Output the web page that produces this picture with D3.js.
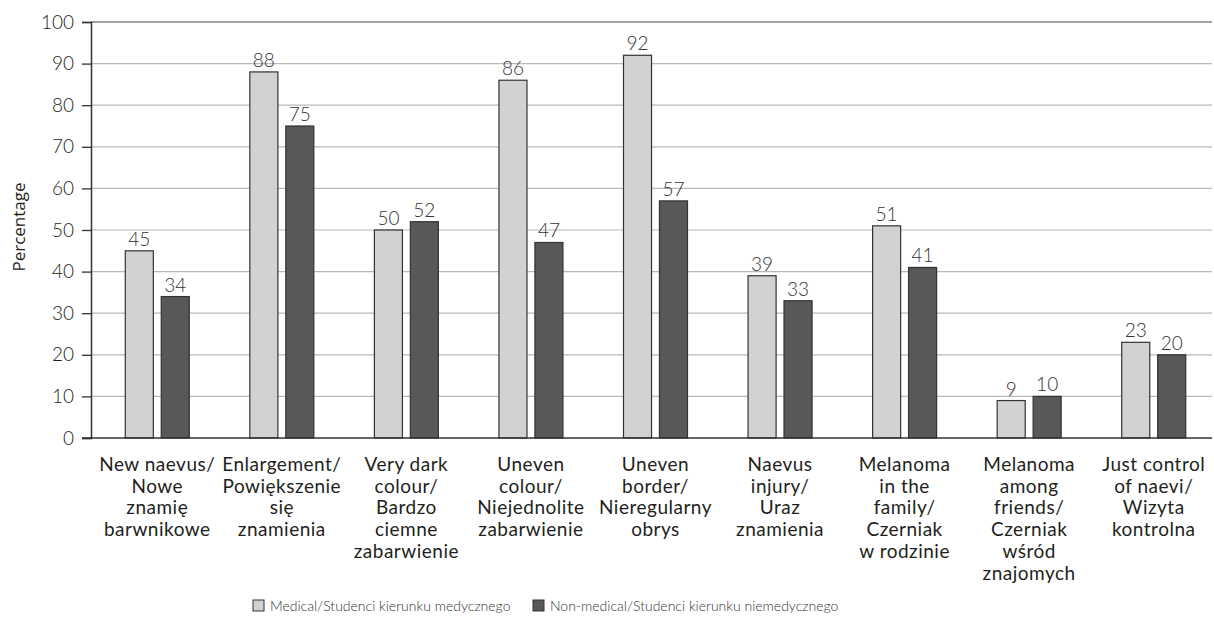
<!DOCTYPE html>
<html lang="en">
<head>
<meta charset="UTF-8">
<title>Chart</title>
<script src="https://cdn.jsdelivr.net/npm/d3@7"></script>
<style>
  body { margin: 0; background: #fff; }
  text { font-family: Lato, "Open Sans", sans-serif; fill: #231f20; }
</style>
</head>
<body>
<svg width="1214" height="623" id="mainsvg"></svg>
<script>
  const categories = [
    ['New naevus/', 'Nowe', 'znamię', 'barwnikowe'],
    ['Enlargement/', 'Powiększenie', 'się', 'znamienia'],
    ['Very dark', 'colour/', 'Bardzo', 'ciemne', 'zabarwienie'],
    ['Uneven', 'colour/', 'Niejednolite', 'zabarwienie'],
    ['Uneven', 'border/', 'Nieregularny', 'obrys'],
    ['Naevus', 'injury/', 'Uraz', 'znamienia'],
    ['Melanoma', 'in the', 'family/', 'Czerniak', 'w rodzinie'],
    ['Melanoma', 'among', 'friends/', 'Czerniak', 'wśród', 'znajomych'],
    ['Just control', 'of naevi/', 'Wizyta', 'kontrolna']
  ]
  const medical = [45, 88, 50, 86, 92, 39, 51, 9, 23]
  const nonMedical = [34, 75, 52, 47, 57, 33, 41, 10, 20]
  const seriesNames = ['Medical/Studenci kierunku medycznego', 'Non-medical/Studenci kierunku niemedycznego']
  const seriesColors = ['#d1d2d4', '#58585a']
  const yTicks = [0, 10, 20, 30, 40, 50, 60, 70, 80, 90, 100]

  const svg = d3.select('#mainsvg')
  const axisLeft = 91, plotRight = 1212
  const yTop = 22, yBottom = 438

  const x0 = d3.scaleBand()
    .domain(d3.range(categories.length))
    .range([95, 1216])
  const x1 = d3.scaleBand()
    .domain([0, 1])
    .range([x0.bandwidth() / 2 - 32, x0.bandwidth() / 2 + 32])
    .paddingInner(0.22)
  const y = d3.scaleLinear().domain([0, 100]).range([yBottom, yTop])

  // grid lines
  svg.append('g').selectAll('line')
    .data(yTicks.filter(d => d > 0 && d < 100))
    .join('line')
    .attr('x1', axisLeft).attr('x2', plotRight)
    .attr('y1', d => y(d)).attr('y2', d => y(d))
    .attr('stroke', '#b8b8b8').attr('stroke-width', 1.2)

  // top line
  svg.append('line')
    .attr('x1', axisLeft).attr('x2', plotRight)
    .attr('y1', y(100)).attr('y2', y(100))
    .attr('stroke', '#444').attr('stroke-width', 1.2)

  // y axis
  const yAxis = d3.axisLeft(y).tickValues(yTicks).tickSize(9).tickPadding(8)
  const ya = svg.append('g')
    .attr('transform', `translate(${axisLeft},0)`)
    .call(yAxis)
  ya.select('.domain').attr('stroke', '#333').attr('stroke-width', 1.5)
  ya.selectAll('.tick line').attr('stroke', '#333').attr('stroke-width', 1.3)
  ya.selectAll('.tick text')
    .attr('font-size', '19px')
    .attr('font-weight', 300)
    .style('font-family', 'Lato, sans-serif')
    .attr('fill', '#231f20')

  // bars
  const groups = svg.append('g').selectAll('g')
    .data(categories.map((c, i) => ({ i, vals: [medical[i], nonMedical[i]] })))
    .join('g')
    .attr('transform', d => `translate(${x0(d.i)},0)`)

  groups.selectAll('rect')
    .data(d => d.vals.map((v, k) => ({ v, k })))
    .join('rect')
    .attr('x', d => x1(d.k))
    .attr('width', x1.bandwidth())
    .attr('y', d => y(d.v))
    .attr('height', d => y(0) - y(d.v))
    .attr('fill', d => seriesColors[d.k])
    .attr('stroke', '#333')
    .attr('stroke-width', 1.2)

  groups.selectAll('text.val')
    .data(d => d.vals.map((v, k) => ({ v, k })))
    .join('text')
    .attr('class', 'val')
    .attr('x', d => x1(d.k) + x1.bandwidth() / 2)
    .attr('y', d => y(d.v) - 5)
    .attr('text-anchor', 'middle')
    .attr('font-size', '19px')
    .attr('font-weight', 300)
    .style('fill', '#333')
    .text(d => d.v)

  // x axis line
  svg.append('line')
    .attr('x1', axisLeft - 9).attr('x2', plotRight)
    .attr('y1', y(0)).attr('y2', y(0))
    .attr('stroke', '#333').attr('stroke-width', 1.5)

  // category labels
  groups.each(function (d) {
    const t = d3.select(this).append('text')
      .attr('text-anchor', 'middle')
      .attr('font-size', '19px')
      .attr('letter-spacing', '0.5px')
      .attr('y', 471)
    categories[d.i].forEach((line, j) => {
      t.append('tspan')
        .attr('x', x0.bandwidth() / 2)
        .attr('dy', j === 0 ? 0 : 21.7)
        .text(line)
    })
  })

  // y title
  svg.append('text')
    .attr('transform', `translate(25,227) rotate(-90)`)
    .attr('text-anchor', 'middle')
    .attr('font-size', '17px')
    .style('font-family', '"Open Sans", sans-serif')
    .text('Percentage')

  // legend
  const legendX = [253, 533]
  const legend = svg.append('g').selectAll('g')
    .data(seriesNames)
    .join('g')
    .attr('transform', (d, i) => `translate(${legendX[i]},600)`)
  legend.append('rect')
    .attr('width', 11).attr('height', 11)
    .attr('fill', (d, i) => seriesColors[i])
    .attr('stroke', '#333').attr('stroke-width', 1)
  legend.append('text')
    .attr('x', 17).attr('y', 11)
    .attr('font-size', '14px')
    .attr('font-weight', 300)
    .style('fill', '#333')
    .text(d => d)
</script>
</body>
</html>
